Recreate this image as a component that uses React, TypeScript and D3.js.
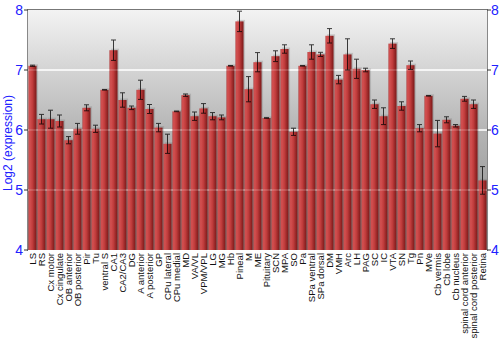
import React from "react";
import * as d3 from "d3";

const categories = ["LS","RS","Cx motor","Cx cingulate","OB anterior","OB posterior","Pir","Tu","ventral S","CA1","CA2/CA3","DG","A anterior","A posterior","GP","CPu lateral","CPu medial","MD","VA/VL","VPM/VPL","LG","MG","Hb","Pineal","M","ME","Pituitary","SCN","MPA","SO","Pa","SPa ventral","SPa dorsal","DM","VMH","Arc","LH","PAG","SC","IC","VTA","SN","Tg","Pn","MVe","Cb vermis","Cb lobe","Cb nucleus","spinal cord anterior","spinal cord posterior","Retina"];

const values = [7.07,6.18,6.18,6.15,5.83,6.02,6.37,6.02,6.67,7.33,6.5,6.37,6.67,6.35,6.04,5.77,6.31,6.58,6.23,6.36,6.23,6.21,7.07,7.81,6.68,7.13,6.2,7.23,7.35,5.97,7.07,7.3,7.26,7.57,6.84,7.26,7.02,7.0,6.43,6.23,7.44,6.4,7.08,6.03,6.57,5.94,6.17,6.07,6.52,6.43,5.16];

const errors = [0.01,0.08,0.15,0.1,0.06,0.09,0.05,0.06,0.005,0.17,0.12,0.03,0.16,0.075,0.07,0.16,0.005,0.02,0.07,0.08,0.06,0.04,0.005,0.17,0.21,0.16,0.005,0.09,0.07,0.06,0.005,0.12,0.035,0.12,0.07,0.26,0.16,0.03,0.07,0.14,0.08,0.07,0.07,0.06,0.005,0.22,0.05,0.02,0.04,0.07,0.23];

const yTicks = [4, 5, 6, 7, 8];
const yTitle = "Log2 (expression)";

export default function App() {
  const W = 500, H = 350;
  const left = 28, right = 487, top = 10, bottom = 250;
  const x = d3.scaleBand<string>().domain(categories).range([left, right]).paddingInner(0.1).paddingOuter(0.05);
  const y = d3.scaleLinear().domain([4, 8]).range([bottom, top]);
  const bw = x.bandwidth();
  const blue = "#2020ff";

  return (
    <svg width={W} height={H} style={{ position: "absolute", left: 0, top: 0, fontFamily: "'Liberation Sans', Arial, sans-serif" }}>
      <defs>
        <linearGradient id="bg" x1="0" y1="0" x2="0" y2="1">
          <stop offset="0" stopColor="#f3f3f3" />
          <stop offset="0.5" stopColor="#b5b5b5" />
          <stop offset="1" stopColor="#8a8a8a" />
        </linearGradient>
        <linearGradient id="bar" x1="0" y1="0" x2="1" y2="0">
          <stop offset="0" stopColor="#b03434" />
          <stop offset="0.15" stopColor="#d45252" />
          <stop offset="0.5" stopColor="#c03c3c" />
          <stop offset="1" stopColor="#7a1818" />
        </linearGradient>
      </defs>
      <rect x={left} y={top} width={right - left} height={bottom - top} fill="url(#bg)" />
      {yTicks.slice(1, 4).map((t) => (
        <line key={"g" + t} x1={left} x2={right} y1={y(t)} y2={y(t)} stroke="#ffffff" strokeWidth={1.5} />
      ))}
      {categories.map((c, i) => {
        const bx = x(c)!;
        return (
          <rect key={"s" + c} x={bx + 1.5} y={y(values[i]) - 1.5} width={bw} height={bottom - y(values[i]) + 1.5} fill="#666" opacity={0.25} />
        );
      })}
      {categories.map((c, i) => {
        const bx = x(c)!;
        return (
          <rect key={"b" + c} x={bx} y={y(values[i])} width={bw} height={bottom - y(values[i])} fill="url(#bar)" />
        );
      })}
      {yTicks.slice(1, 4).map((t) => (
        <line key={"g2" + t} x1={left} x2={right} y1={y(t)} y2={y(t)} stroke="#ffffff" strokeWidth={1} opacity={0.3} />
      ))}
      {categories.map((c, i) => {
        const cx = x(c)! + bw / 2;
        const v = values[i], e = errors[i];
        const y1 = y(v + e), y2 = y(v - e);
        return (
          <g key={"e" + c} stroke="#000" strokeWidth={1} opacity={0.75}>
            <line x1={cx} x2={cx} y1={y1} y2={y2} />
            <line x1={cx - 2.5} x2={cx + 2.5} y1={y1} y2={y1} />
            <line x1={cx - 2.5} x2={cx + 2.5} y1={y2} y2={y2} />
          </g>
        );
      })}
      <line x1={left} x2={right} y1={top - 0.5} y2={top - 0.5} stroke="#777" strokeWidth={1} />
      <line x1={left - 0.5} x2={left - 0.5} y1={top - 1} y2={bottom + 1} stroke="#888" strokeWidth={1} />
      <line x1={right + 0.5} x2={right + 0.5} y1={top - 1} y2={bottom + 1} stroke="#888" strokeWidth={1} />
      {yTicks.map((t) => (
        <g key={"t" + t}>
          <line x1={left - 4} x2={left} y1={y(t)} y2={y(t)} stroke="#333" />
          <line x1={right} x2={right + 4} y1={y(t)} y2={y(t)} stroke="#333" />
          <text x={left - 5} y={y(t)} dy="0.36em" textAnchor="end" fill={blue} fontSize={14}>{t}</text>
          <text x={right + 4} y={y(t)} dy="0.36em" textAnchor="start" fill={blue} fontSize={14}>{t}</text>
        </g>
      ))}
      <text transform={`translate(12,${(top + bottom) / 2 + 13}) rotate(-90)`} textAnchor="middle" fill={blue} fontSize={12}>{yTitle}</text>
      {categories.map((c) => {
        const cx = x(c)! + bw / 2;
        return (
          <text key={"l" + c} transform={`translate(${cx + 3.5},${bottom + 3}) rotate(-90)`} textAnchor="end" fill="#111" fontSize={9.5}>{c}</text>
        );
      })}
    </svg>
  );
}
